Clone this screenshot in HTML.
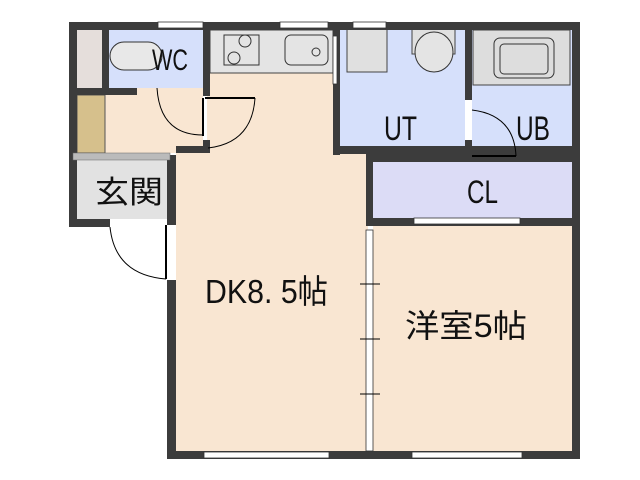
<!DOCTYPE html><html><head><style>body{margin:0;background:#fff}svg{display:block}text{font-family:"Liberation Sans","Noto Sans CJK JP",sans-serif;fill:#111}</style></head><body>
<svg width="640" height="480" viewBox="0 0 640 480" xmlns="http://www.w3.org/2000/svg">
<!-- floors -->
<rect x="176" y="73" width="192" height="380" fill="#f9e6d2"/>
<rect x="373" y="225" width="200" height="228" fill="#f9e6d2"/>
<rect x="105" y="88" width="100" height="65" fill="#f9e6d2"/>
<rect x="109" y="30" width="94" height="58" fill="#d6e0fb"/>
<rect x="77" y="30" width="25" height="58" fill="#e5dedb"/>
<rect x="77" y="95" width="28" height="58" fill="#d6c08c" stroke="#555" stroke-width="1"/>
<rect x="340" y="30" width="125" height="123" fill="#d6e0fb"/>
<rect x="472" y="30" width="100" height="123" fill="#d6e0fb"/>
<rect x="373" y="162" width="199" height="56" fill="#dcdcf6"/>
<rect x="77" y="160" width="90" height="59" fill="#e2e2e2"/>
<rect x="210" y="30" width="123" height="43" fill="#e4e4e4" stroke="#444"/>
<rect x="224" y="35" width="35" height="30" fill="none" stroke="#333"/>
<circle cx="245" cy="41" r="6" fill="none" stroke="#333"/><circle cx="234" cy="58" r="6" fill="none" stroke="#333"/>
<rect x="285" y="35" width="43" height="30" rx="6" fill="none" stroke="#333"/>
<circle cx="316" cy="52" r="4" fill="none" stroke="#333"/>
<rect x="347" y="29" width="40" height="43" fill="#e0e0e0" stroke="#444"/>
<rect x="412" y="29" width="43" height="25" fill="#e0e0e0" stroke="#444"/>
<ellipse cx="434" cy="52" rx="19" ry="20" fill="#e4e4e4" stroke="#333"/>
<rect x="473" y="30" width="97" height="55" fill="#ddd" stroke="#444"/>
<rect x="494" y="38" width="60" height="40" rx="6" fill="none" stroke="#333"/>
<rect x="500" y="44" width="48" height="30" rx="4" fill="none" stroke="#333"/>
<rect x="110" y="42" width="52" height="28" rx="14" fill="#e8e8e8" stroke="#333"/>
<!-- walls -->
<g fill="#3c3c3c">
<rect x="69" y="22" width="511" height="8"/>
<rect x="69" y="22" width="8" height="205"/>
<rect x="572" y="22" width="8" height="437"/>
<rect x="69" y="219" width="41" height="8"/>
<rect x="167" y="155" width="9" height="70"/>
<rect x="167" y="280" width="9" height="179"/>
<rect x="167" y="451" width="413" height="8"/>
<rect x="102" y="30" width="7" height="58"/>
<rect x="203" y="30" width="7" height="66"/>
<rect x="203" y="140" width="7" height="13"/>
<rect x="77" y="88" width="60" height="7"/>
<rect x="176" y="146" width="34" height="7"/>
<rect x="333" y="146" width="247" height="8"/>
<rect x="366" y="154" width="7" height="70"/>
<rect x="366" y="154" width="214" height="8"/>
<rect x="366" y="218" width="214" height="8"/>
<rect x="465" y="30" width="7" height="70"/>
<rect x="465" y="140" width="7" height="13"/>
<rect x="333" y="30" width="7" height="125"/>
</g>
<rect x="73" y="153" width="97" height="7" fill="#bbb" stroke="#666" stroke-width=".5"/>
<!-- windows -->
<g fill="#fff" stroke="#333" stroke-width=".8">
<rect x="158" y="22" width="45" height="6"/><rect x="280" y="22" width="48" height="6"/><rect x="353" y="22" width="33" height="6"/>
<rect x="203" y="96" width="4" height="44" stroke="none"/>
<rect x="465" y="100" width="7" height="40" stroke="none"/>
<rect x="414" y="218" width="106" height="6"/>
<rect x="204" y="452" width="125" height="6"/><rect x="412" y="452" width="110" height="6"/>
<rect x="366" y="230" width="7" height="221"/>
<rect x="333" y="36" width="4" height="48"/>
</g>
<!-- doors -->
<g fill="none" stroke="#000" stroke-width="1">
<path d="M110 227 Q115 275 166 279"/><line x1="166" y1="225" x2="166" y2="279" stroke-width="2"/>
<path d="M157 88 Q160 135 203 135"/><line x1="203" y1="98" x2="203" y2="136" stroke-width="2"/>
<path d="M255 98 Q252 143 208 148"/><line x1="205" y1="98" x2="255" y2="98" stroke-width="2"/>
<path d="M472 110 Q514 115 516 156"/><line x1="472" y1="156" x2="516" y2="156" stroke-width="2"/>
<line x1="360" y1="284" x2="380" y2="284"/><line x1="360" y1="339" x2="380" y2="339"/><line x1="360" y1="394" x2="380" y2="394"/>
</g>
<text x="152" y="70" font-size="30" textLength="36" lengthAdjust="spacingAndGlyphs">WC</text>
<text x="95" y="203" font-size="31" textLength="68" lengthAdjust="spacingAndGlyphs">玄関</text>
<text x="384" y="140" font-size="34" textLength="33" lengthAdjust="spacingAndGlyphs">UT</text>
<text x="516" y="140" font-size="34" textLength="34" lengthAdjust="spacingAndGlyphs">UB</text>
<text x="467" y="203" font-size="32" textLength="31" lengthAdjust="spacingAndGlyphs">CL</text>
<text x="205" y="303" font-size="33" textLength="123" lengthAdjust="spacingAndGlyphs">DK8. 5帖</text>
<text x="405" y="337" font-size="32" textLength="122" lengthAdjust="spacingAndGlyphs">洋室5帖</text>
</svg></body></html>
